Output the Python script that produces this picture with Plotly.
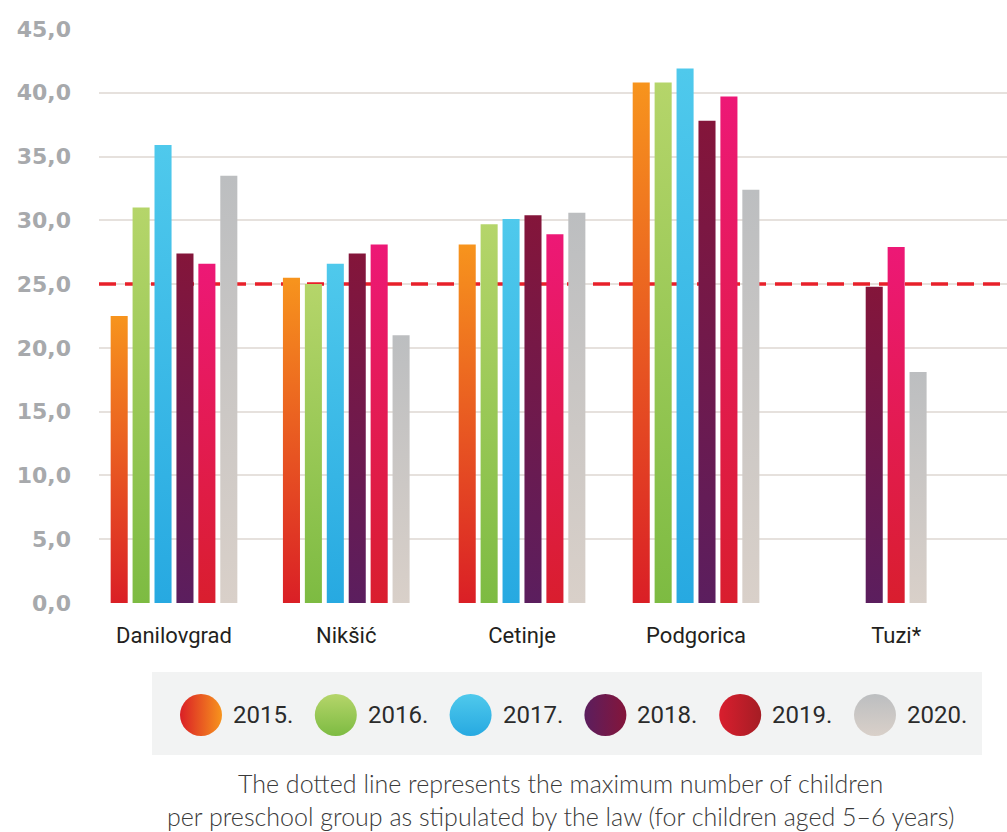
import plotly.graph_objects as go

# ---- data -------------------------------------------------------------
municipalities = ["Danilovgrad", "Nikšić", "Cetinje", "Podgorica", "Tuzi*"]
years = ["2015.", "2016.", "2017.", "2018.", "2019.", "2020."]

# average number of children per preschool group (None = no data)
v2015 = [22.5, 25.5, 28.1, 40.8, None]
v2016 = [31.0, 25.0, 29.7, 40.8, None]
v2017 = [35.9, 26.6, 30.1, 41.9, None]
v2018 = [27.4, 27.4, 30.4, 37.8, 24.8]
v2019 = [26.6, 28.1, 28.9, 39.7, 27.9]
v2020 = [33.5, 21.0, 30.6, 32.4, 18.1]
series = [v2015, v2016, v2017, v2018, v2019, v2020]

legal_max = 25.0
y_ticks = [0, 5, 10, 15, 20, 25, 30, 35, 40, 45]
y_ticktext = ["0,0", "5,0", "10,0", "15,0", "20,0", "25,0", "30,0", "35,0", "40,0", "45,0"]

# ---- styling ----------------------------------------------------------
# bar gradients: (bottom colour, top colour)
bar_grad = [
    ("#DA1F26", "#F7941D"),
    ("#7DBB42", "#B5D56A"),
    ("#27A9E1", "#4FC9EC"),
    ("#5B1E5E", "#84153A"),
    ("#D91E2E", "#ED1876"),
    ("#D9D0C9", "#BCBEC0"),
]
# legend swatches: (gradient type, marker colour, gradient colour)
legend_grad = [
    ("horizontal", "#DA1F26", "#F7941D"),
    ("vertical", "#B5D56A", "#7DBB42"),
    ("vertical", "#4FC9EC", "#27A9E1"),
    ("horizontal", "#5B1E5E", "#84153A"),
    ("horizontal", "#D91E2E", "#A51D24"),
    ("vertical", "#BCBEC0", "#D9D0C9"),
]

W, H = 1007, 832
PLOT_L, PLOT_T, PLOT_B = 99, 29, 603
group_x = [0.0, 0.99, 2.0, 3.0, 4.15]      # group centres on the numeric x axis
x_range = [-0.431, 4.787]
pitch = 0.126                               # distance between neighbouring bars
bar_w = 0.098

fig = go.Figure()

# legal maximum line, drawn first so the bars cover it
fig.add_trace(go.Scatter(
    x=[x_range[0], x_range[1]], y=[legal_max, legal_max], mode="lines",
    line=dict(color="#E8202A", width=3.5, dash="17px,9px"),
    hoverinfo="skip", showlegend=False, xaxis="x", yaxis="y", cliponaxis=False,
))

for gi, name in enumerate(municipalities):
    present = [si for si in range(len(years)) if series[si][gi] is not None]
    n = len(present)
    for k, si in enumerate(present):
        v = series[si][gi]
        cx = group_x[gi] + (k - (n - 1) / 2) * pitch
        x0, x1 = cx - bar_w / 2, cx + bar_w / 2
        bottom, top = bar_grad[si]
        fig.add_trace(go.Scatter(
            x=[x0, x1, x1, x0, x0], y=[0, 0, v, v, 0],
            mode="lines", fill="toself", line=dict(width=0),
            fillcolor=top,
            fillgradient=dict(type="vertical", colorscale=[[0, bottom], [1, top]],
                              start=0, stop=v),
            hoverinfo="text", text=f"{name} {years[si]} {v}",
            showlegend=False, xaxis="x", yaxis="y",
        ))

# ---- legend panel (pixel coordinates on an overlay axis) -------------
legend_cx = [201 + i * 134.8 for i in range(len(years))]
legend_cy = 715
fig.add_shape(type="rect", xref="x2", yref="y2", x0=152, x1=982, y0=672, y1=755,
              fillcolor="#F2F3F3", line=dict(width=0), layer="below")
for i, yr in enumerate(years):
    gtype, c_marker, c_grad = legend_grad[i]
    fig.add_trace(go.Scatter(
        x=[legend_cx[i]], y=[legend_cy], mode="markers", xaxis="x2", yaxis="y2",
        marker=dict(size=42, color=c_marker, line=dict(width=0),
                    gradient=dict(type=gtype, color=c_grad)),
        hoverinfo="skip", showlegend=False,
    ))
    fig.add_annotation(x=legend_cx[i] + 30, y=legend_cy, xref="x2", yref="y2",
                       text=yr, showarrow=False, xanchor="left", yanchor="middle",
                       font=dict(family="Roboto", size=24, color="#2B2B2B"))

# footnote
fig.add_annotation(x=560, y=799, xref="x2", yref="y2", showarrow=False,
                   text="The dotted line represents the maximum number of children<br>"
                        "per preschool group as stipulated by the law (for children aged 5–6 years)",
                   font=dict(family="Lato", size=25, color="#3A3A3A", weight=300),
                   align="center", xanchor="center", yanchor="middle")

fig.update_layout(
    width=W, height=H,
    margin=dict(l=0, r=0, t=0, b=0),
    paper_bgcolor="white", plot_bgcolor="rgba(0,0,0,0)",
    showlegend=False,
    xaxis=dict(domain=[PLOT_L / W, 1], range=x_range, tickvals=group_x,
               ticktext=municipalities, showgrid=False, zeroline=False,
               showline=False, ticks="", ticklabelstandoff=17, automargin=False,
               tickfont=dict(family="Roboto", size=22, color="#231F20")),
    yaxis=dict(domain=[1 - PLOT_B / H, 1 - PLOT_T / H], range=[0, 45],
               tickvals=y_ticks, ticktext=y_ticktext, automargin=False,
               showgrid=True, gridcolor="#E6E1DD", gridwidth=1.5,
               zeroline=False, showline=False, ticks="", ticklabelstandoff=27,
               tickfont=dict(family="DejaVu Sans", size=22, color="#A7A9AC", weight="bold")),
    xaxis2=dict(domain=[0, 1], range=[0, W], anchor="y2", visible=False,
                fixedrange=True, automargin=False),
    yaxis2=dict(domain=[0, 1], range=[H, 0], anchor="x2", visible=False,
                fixedrange=True, automargin=False),
)

fig.write_html("out.html")
